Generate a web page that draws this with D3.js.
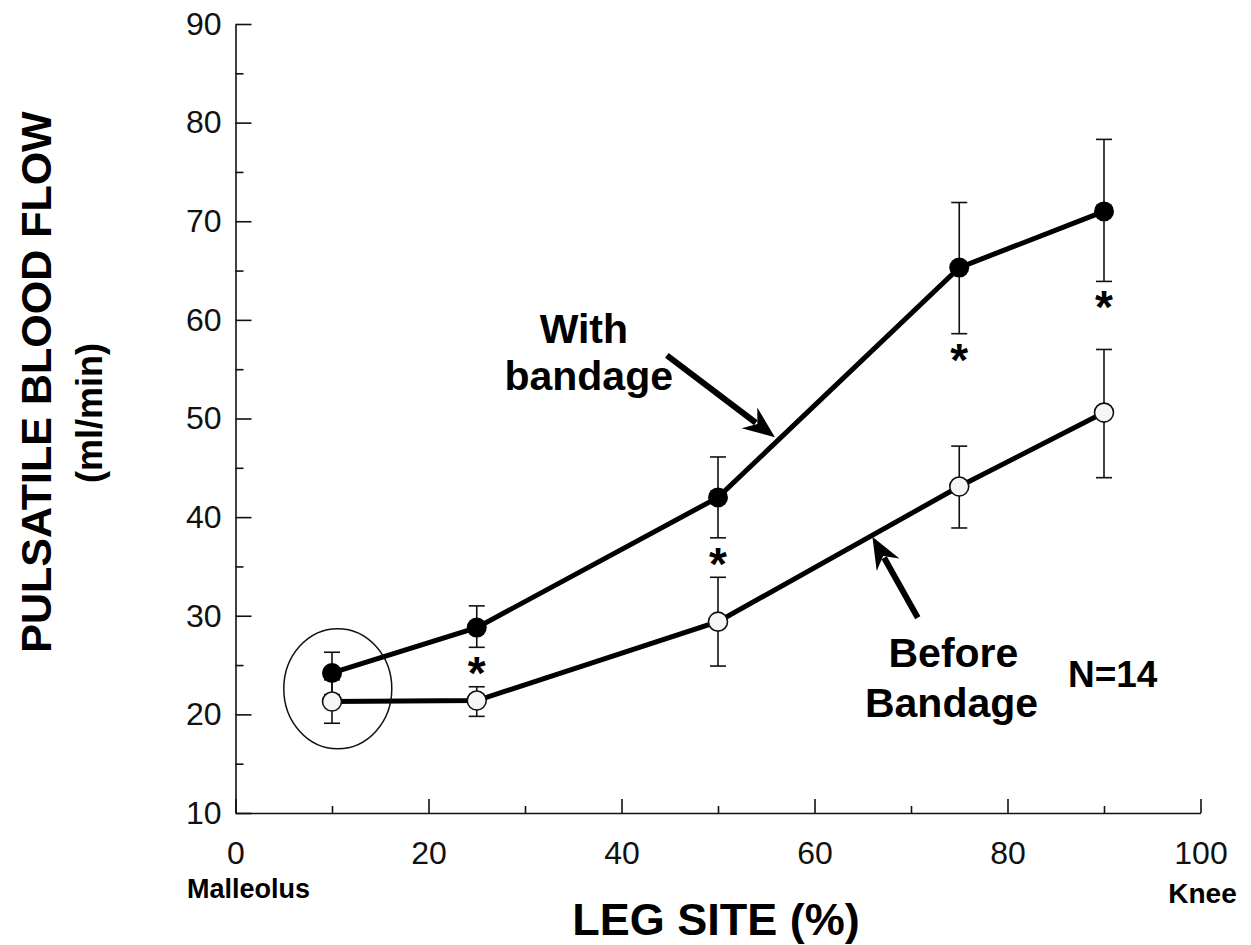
<!DOCTYPE html>
<html>
<head>
<meta charset="utf-8">
<script src="https://cdn.jsdelivr.net/npm/d3@7/dist/d3.min.js"></script>
<style>
  body { margin: 0; background: #fff; }
  svg { display: block; font-family: "Liberation Sans", Arial, sans-serif; }
</style>
</head>
<body>
<svg width="1251" height="945"></svg>
<script>
// leg site (% from malleolus to knee)
const sites = [10, 25, 50, 75, 90];
// with bandage (filled circles)
const withBandage = [24.2, 28.8, 42.0, 65.3, 71.0];
const withHigh = [26.3, 31.0, 46.1, 71.9, 78.3];
const withLow = [22.0, 26.8, 37.9, 58.6, 63.9];
// before bandage (open circles)
const beforeBandage = [21.3, 21.4, 29.4, 43.1, 50.6];
const beforeHigh = [23.5, 22.8, 33.9, 47.2, 57.0];
const beforeLow = [19.1, 19.8, 24.9, 38.9, 44.0];
const significant = [false, true, true, true, true];

const xTicks = [0, 20, 40, 60, 80, 100];
const xMinor = [10, 30, 50, 70, 90];
const yTicks = [10, 20, 30, 40, 50, 60, 70, 80, 90];
const yMinor = [15, 25, 35, 45, 55, 65, 75, 85];

const x = d3.scaleLinear().domain([0, 100]).range([235.5, 1200.5]);
const y = d3.scaleLinear().domain([10, 90]).range([813, 24]);

const svg = d3.select("svg");

// axes
const gy = svg.append("g").attr("transform", `translate(${x(0)},0)`);
gy.call(d3.axisLeft(y).tickValues(yTicks).tickSizeInner(-16).tickSizeOuter(0).tickPadding(14));
const gyMinor = svg.append("g").attr("transform", `translate(${x(0)},0)`);
gyMinor.call(d3.axisLeft(y).tickValues(yMinor).tickSizeInner(-8).tickSizeOuter(0).tickFormat(""));
gyMinor.select(".domain").remove();

const gx = svg.append("g").attr("transform", `translate(0,${y(10)})`);
gx.call(d3.axisBottom(x).tickValues(xTicks).tickSizeInner(-14).tickSizeOuter(0).tickPadding(28));
const gxMinor = svg.append("g").attr("transform", `translate(0,${y(10)})`);
gxMinor.call(d3.axisBottom(x).tickValues(xMinor).tickSizeInner(-7).tickSizeOuter(0).tickFormat(""));
gxMinor.select(".domain").remove();

svg.selectAll(".domain, .tick line").attr("stroke", "#111").attr("stroke-width", 1.6);
svg.selectAll(".tick text")
  .attr("font-family", "Liberation Sans, Arial, sans-serif")
  .attr("font-size", 32)
  .attr("fill", "#111");

// axis titles
svg.append("text")
  .attr("x", 187).attr("y", 898)
  .attr("font-size", 27).attr("font-weight", "bold")
  .text("Malleolus");
svg.append("text")
  .attr("x", x(100) + 2).attr("y", 903)
  .attr("text-anchor", "middle")
  .attr("font-size", 28).attr("font-weight", "bold")
  .text("Knee");
svg.append("text")
  .attr("x", 716).attr("y", 935)
  .attr("text-anchor", "middle")
  .attr("font-size", 45).attr("font-weight", "bold")
  .text("LEG SITE (%)");
svg.append("text")
  .attr("transform", "translate(51,382) rotate(-90)")
  .attr("text-anchor", "middle")
  .attr("font-size", 43).attr("font-weight", "bold")
  .text("PULSATILE BLOOD FLOW");
svg.append("text")
  .attr("transform", "translate(102,413) rotate(-90)")
  .attr("text-anchor", "middle")
  .attr("font-size", 36).attr("font-weight", "bold")
  .text("(ml/min)");

// error bars
function errorBars(lo, hi) {
  const g = svg.append("g").attr("stroke", "#111").attr("stroke-width", 1.6);
  sites.forEach((s, i) => {
    g.append("line").attr("x1", x(s)).attr("x2", x(s)).attr("y1", y(lo[i])).attr("y2", y(hi[i]));
    g.append("line").attr("x1", x(s) - 8).attr("x2", x(s) + 8).attr("y1", y(lo[i])).attr("y2", y(lo[i]));
    g.append("line").attr("x1", x(s) - 8).attr("x2", x(s) + 8).attr("y1", y(hi[i])).attr("y2", y(hi[i]));
  });
}
errorBars(beforeLow, beforeHigh);
errorBars(withLow, withHigh);

// lines
const line = d3.line().x(d => x(d[0])).y(d => y(d[1]));
svg.append("path")
  .attr("d", line(sites.map((s, i) => [s, beforeBandage[i]])))
  .attr("fill", "none").attr("stroke", "#000").attr("stroke-width", 5);
svg.append("path")
  .attr("d", line(sites.map((s, i) => [s, withBandage[i]])))
  .attr("fill", "none").attr("stroke", "#000").attr("stroke-width", 5);

// markers
svg.append("g").selectAll("circle")
  .data(sites)
  .enter()
  .append("circle")
  .attr("cx", d => x(d))
  .attr("cy", (d, i) => y(beforeBandage[i]))
  .attr("r", 9.5)
  .attr("fill", "#f6f6f6")
  .attr("stroke", "#111")
  .attr("stroke-width", 1.6);
svg.append("g").selectAll("circle")
  .data(sites)
  .enter()
  .append("circle")
  .attr("cx", d => x(d))
  .attr("cy", (d, i) => y(withBandage[i]))
  .attr("r", 10)
  .attr("fill", "#000");

// significance stars
svg.append("g").selectAll("text")
  .data(sites.filter((s, i) => significant[i]))
  .enter()
  .append("text")
  .attr("x", d => x(d))
  .attr("y", d => y(withLow[sites.indexOf(d)]) + 42)
  .attr("text-anchor", "middle")
  .attr("font-size", 46).attr("font-weight", "bold")
  .text("*");

// circle around the malleolus points
svg.append("ellipse")
  .attr("cx", x(10.6)).attr("cy", y(22.6))
  .attr("rx", 54).attr("ry", 60)
  .attr("fill", "none").attr("stroke", "#111").attr("stroke-width", 1.5);

// annotations
function arrow(from, to) {
  const x1 = x(from[0]), y1 = y(from[1]), x2 = x(to[0]), y2 = y(to[1]);
  const a = Math.atan2(y2 - y1, x2 - x1);
  const len = 32, half = 13;
  const bx = x2 - len * Math.cos(a), by = y2 - len * Math.sin(a);
  svg.append("line")
    .attr("x1", x1).attr("y1", y1).attr("x2", bx + 8 * Math.cos(a)).attr("y2", by + 8 * Math.sin(a))
    .attr("stroke", "#000").attr("stroke-width", 6);
  svg.append("polygon")
    .attr("points", [
      [x2, y2],
      [bx + half * Math.sin(a), by - half * Math.cos(a)],
      [bx + 10 * Math.cos(a), by + 10 * Math.sin(a)],
      [bx - half * Math.sin(a), by + half * Math.cos(a)]
    ].map(p => p.join(",")).join(" "))
    .attr("fill", "#000");
}
arrow([44.7, 56.4], [55.9, 48.1]);
arrow([70.7, 29.8], [66.0, 38.0]);

const labels = [
  { t: "With", px: 36.1, py: 57.7 },
  { t: "bandage", px: 36.6, py: 52.9 },
  { t: "Before", px: 74.4, py: 24.8 },
  { t: "Bandage", px: 74.2, py: 19.7 },
  { t: "N=14", px: 90.9, py: 22.8, s: 37 }
];
svg.append("g").selectAll("text")
  .data(labels)
  .enter()
  .append("text")
  .attr("x", d => x(d.px))
  .attr("y", d => y(d.py))
  .attr("text-anchor", "middle")
  .attr("font-size", d => d.s || 41)
  .attr("font-weight", "bold")
  .text(d => d.t);
</script>
</body>
</html>
